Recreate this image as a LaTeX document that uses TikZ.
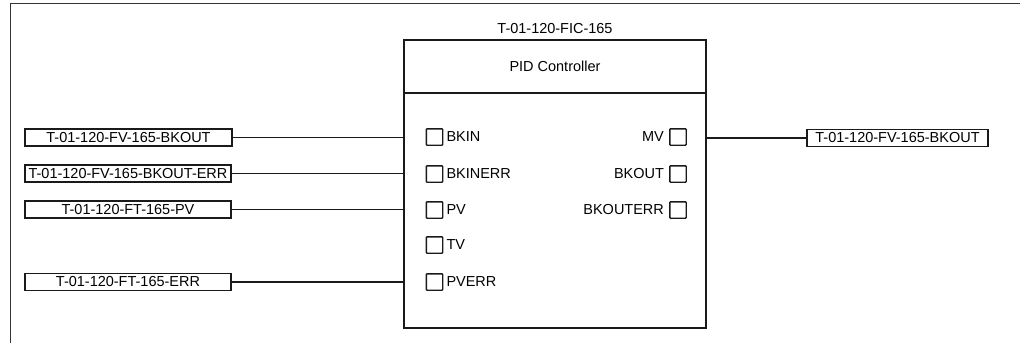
\documentclass[tikz,border=0pt]{standalone}
\usepackage{fontspec}
\setmainfont{Liberation Sans}
\usepackage{xcolor}
\usepackage{tikz}
\usetikzlibrary{positioning,calc}
\definecolor{dark}{HTML}{1A1A1A}
\definecolor{frame}{HTML}{333333}
\tikzset{
    ctrlbox/.style={rectangle, draw=dark, line width=1pt, minimum width=7.55cm, inner sep=0pt, font=\fontsize{10.3}{12}\selectfont},
    tagbox/.style={rectangle, draw=dark, line width=1pt, minimum height=0.43cm, inner sep=1pt, font=\fontsize{10.3}{12}\selectfont},
    port/.style={rectangle, draw=dark, line width=1pt, rounded corners=0.5pt, minimum width=0.41cm, minimum height=0.41cm, inner sep=0pt},
    plabel/.style={inner sep=1.5pt, font=\fontsize{10.3}{12}\selectfont},
    wire/.style={line width=0.8pt, color=dark}
}
\begin{document}
\begin{tikzpicture}[x=0.025cm, y=-0.025cm]
\useasboundingbox (0,0) rectangle (1020,343);

% Outer frame
\draw[frame, line width=1.3pt] (10.5,343) -- (10.5,3.5) -- (1020,3.5);

% Controller block
\node[ctrlbox, minimum height=1.325cm] at (555,66.5) (hdr) {PID Controller};
\node[ctrlbox, minimum height=5.875cm] at (555,210.5) (body) {};
\node[plabel] at (555,29) (tag) {T-01-120-FIC-165};

% Input ports
\foreach \nm/\yy/\lbl in {bkin/137/BKIN, bkinerr/174/BKINERR, pv/210/PV, tv/245/TV, pverr/282/PVERR} {
    \node[port] at (434.5,\yy) (p\nm) {};
    \node[plabel, right=0.5pt of p\nm] (l\nm) {\lbl};
}

% Output ports
\foreach \nm/\yy/\lbl in {mv/137/MV, bkout/174/BKOUT, bkouterr/210/BKOUTERR} {
    \node[port] at (678,\yy) (p\nm) {};
    \node[plabel, left=2pt of p\nm] (l\nm) {\lbl};
}

% Signal tags
\node[tagbox, minimum width=5.175cm] at (128.5,137.5) (tbkin) {T-01-120-FV-165-BKOUT};
\node[tagbox, minimum width=5.15cm] at (128,173.5) (tbkinerr) {T-01-120-FV-165-BKOUT-ERR};
\node[tagbox, minimum width=5.15cm] at (128,209.5) (tpv) {T-01-120-FT-165-PV};
\node[tagbox, minimum width=5.15cm] at (128,282) (tpverr) {T-01-120-FT-165-ERR};
\node[tagbox, minimum width=4.525cm] at (897.5,138) (tmv) {T-01-120-FV-165-BKOUT};

% Wires
\draw[wire] (tbkin.east) -- (body.west |- tbkin.east);
\draw[wire] (tbkinerr.east) -- (body.west |- tbkinerr.east);
\draw[wire] (tpv.east) -- (body.west |- tpv.east);
\draw[wire] (tpverr.east) -- (body.west |- tpverr.east);
\draw[wire] (body.east |- tmv.west) -- (tmv.west);

\end{tikzpicture}
\end{document}
